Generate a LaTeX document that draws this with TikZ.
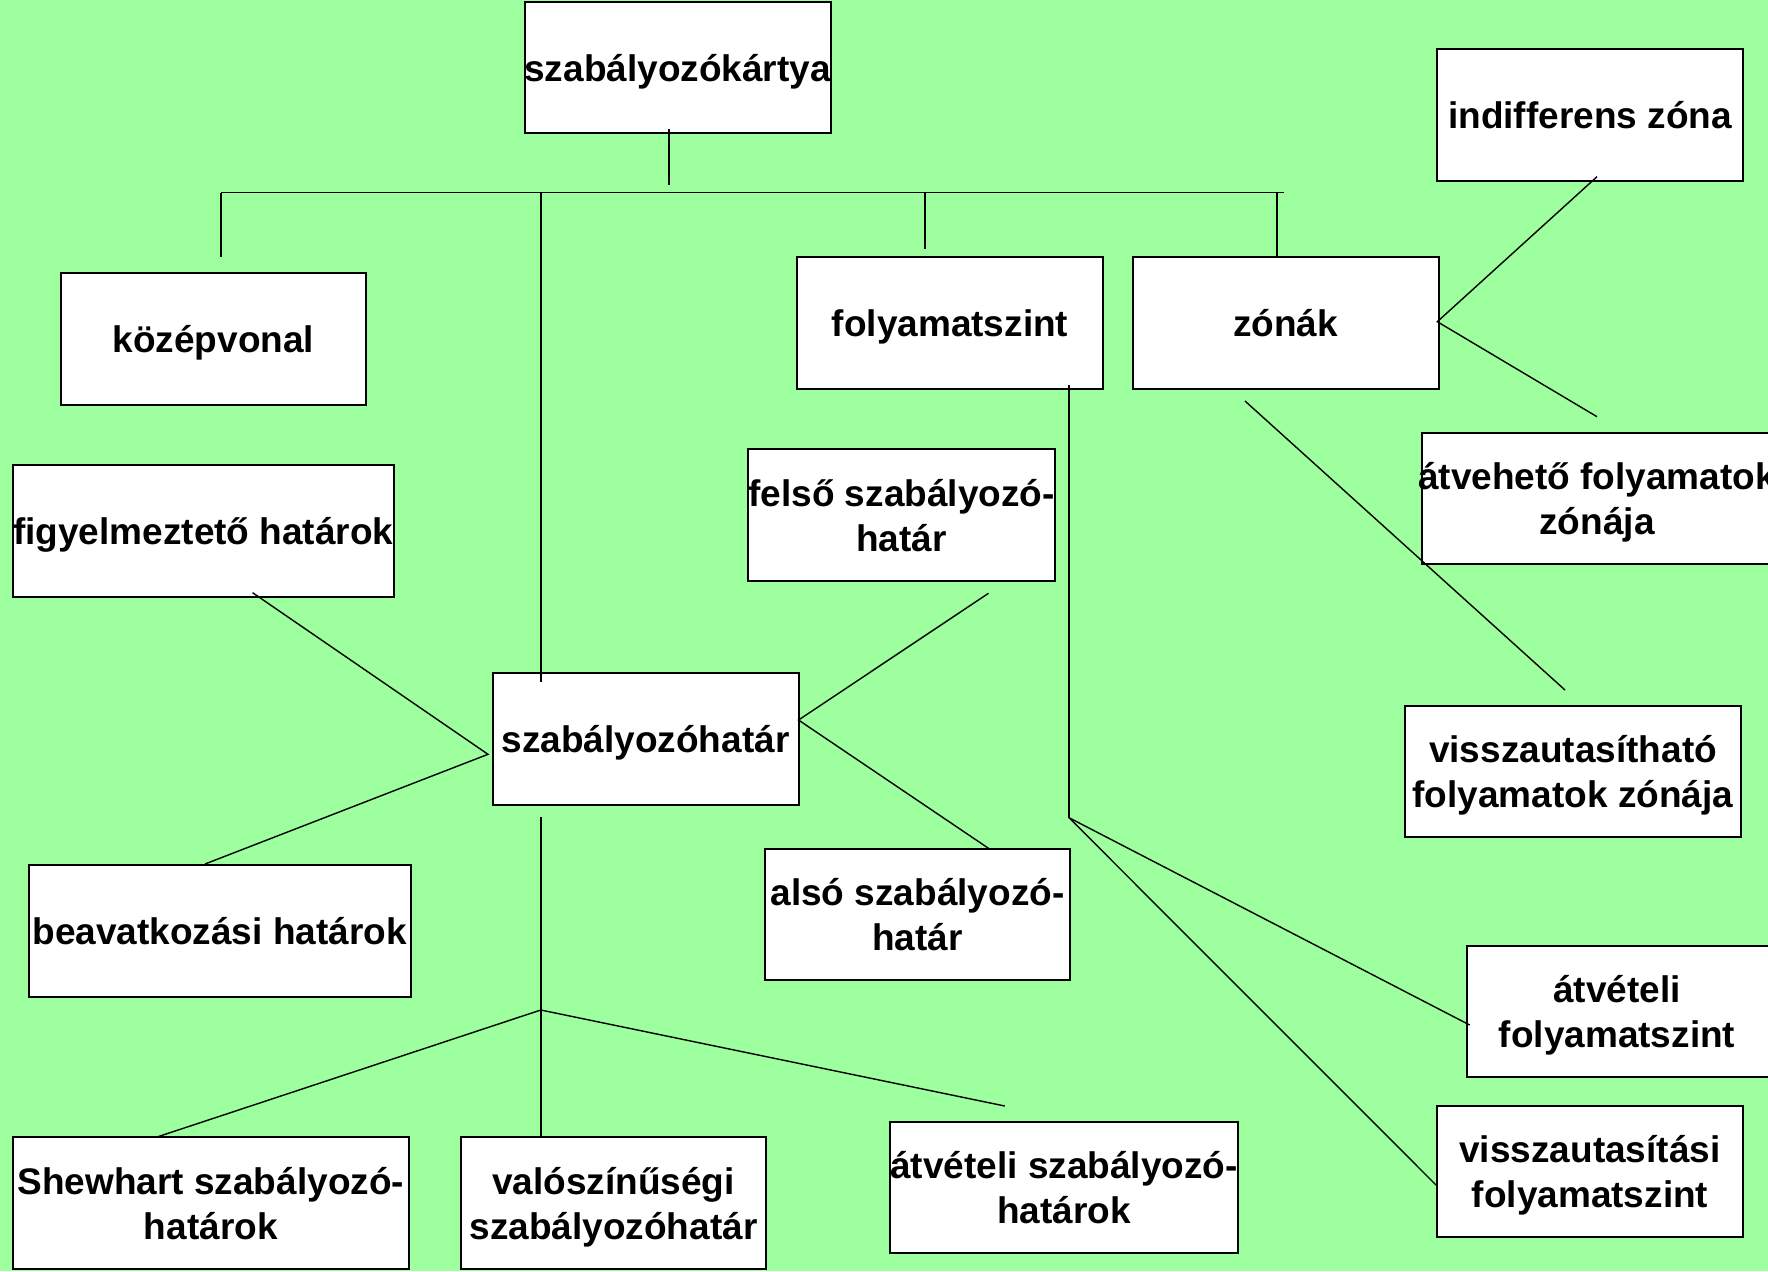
\documentclass[tikz,border=0pt]{standalone}
\usepackage{fontspec}
\setmainfont{Liberation Sans}
\definecolor{bg}{RGB}{158,255,158}
\begin{document}
\begin{tikzpicture}[x=0.5pt,y=-0.5pt,
  box/.style 2 args={draw=black, line width=1pt, fill=white, inner sep=0pt,
    minimum width=#1pt, minimum height=#2pt, align=center, text depth=0pt,
    font=\fontsize{18.5}{22.5}\selectfont\bfseries},
  lbl/.style={inner sep=0pt, align=center,
    font=\fontsize{18.5}{22.5}\selectfont\bfseries},
  conn/.style={draw=black, line width=0.7pt}]

% background and page frame
\fill[bg] (0,0) rectangle (1768,1271);
\clip (0,0) rectangle (1768,1271);

% boxes
\node[box={153}{65.5}] (kartya) at (677.6,67.3) {};
\node[lbl] (kartya-t) at (677.6,72) {szabályozókártya};
\node[box={152.5}{66}] (kozep) at (213.4,339) {középvonal};
\node[box={153}{66}] (folyszint) at (950,323) {folyamatszint};
\node[box={153}{66}] (zonak) at (1285.6,323) {zónák};
\node[box={153}{66}] (indiff) at (1590,115) {indifferens zóna};
\node[box={190.5}{66}] (figyel) at (203.3,531) {figyelmeztető határok};
\node[box={153}{66}] (szabhat) at (645.5,739) {szabályozóhatár};
\node[box={152.5}{66}] (felso) at (901.5,515) {felső szabályozó-\\határ};
\node[box={175}{65.5}] (atveheto) at (1597,498.5) {};
\node[lbl] (atveheto-t) at (1597,502) {átvehető folyamatok\\zónája};
\node[box={168}{65.5}] (visszah) at (1573,771) {visszautasítható\\folyamatok zónája};
\node[box={152.5}{65.5}] (also) at (917.5,914.5) {alsó szabályozó-\\határ};
\node[box={191}{66}] (beavat) at (219.6,930.8) {beavatkozási határok};
\node[box={198}{66}] (shewhart) at (210.8,1203) {Shewhart szabályozó-\\határok};
\node[box={152.5}{66}] (valosz) at (613.5,1203) {valószínűségi\\szabályozóhatár};
\node[box={172}{65.5}] (atvszab) at (1064,1187.5) {átvételi szabályozó-\\határok};
\node[box={152}{65.5}] (atvfoly) at (1619,1011.5) {};
\node[lbl] (atvfoly-t) at (1617,1015) {átvételi\\folyamatszint};
\node[box={153}{65.5}] (visszaut) at (1590,1171.5) {visszautasítási\\folyamatszint};

% connector end points
\coordinate (k1) at (668.8,129);
\coordinate (k2) at (668.8,185);
\coordinate (busL) at (221,192.7);
\coordinate (busR) at (1284,192.7);
\coordinate (b1) at (540.8,192.7);
\coordinate (b2) at (924.9,192.7);
\coordinate (b3) at (1277,192.7);
\coordinate (kz) at (221,257);
\coordinate (fs) at (924.9,249.3);
\coordinate (sztop) at (540.8,681.7);
\coordinate (ind) at (1597,176.7);
\coordinate (zr) at (1437.3,321.7);
\coordinate (atv) at (1597,416.7);
\coordinate (z1) at (1245,401);
\coordinate (z2) at (1565,690);
\coordinate (f1) at (1069,385);
\coordinate (f2) at (1069,817.7);
\coordinate (af) at (1469.7,1025);
\coordinate (vf) at (1436,1185);
\coordinate (fe) at (988.5,593.3);
\coordinate (sr) at (798.5,720);
\coordinate (al) at (988.5,848.3);
\coordinate (fg) at (252.6,592.7);
\coordinate (sl) at (488,754.3);
\coordinate (bv) at (205,864);
\coordinate (sb) at (540.8,816.7);
\coordinate (j) at (540.8,1010);
\coordinate (sh) at (157.9,1136.7);
\coordinate (as) at (1004.8,1106);

% connectors
\draw[conn] (k1) -- (k2);
\draw[conn] (busL) -- (busR);
\draw[conn] (busL) -- (kz);
\draw[conn] (b1) -- (sztop);
\draw[conn] (b2) -- (fs);
\draw[conn] (b3) -- (b3 |- zonak.north);
\draw[conn] (ind) -- (zr) -- (atv);
\draw[conn] (z1) -- (z2);
\draw[conn] (f1) -- (f2);
\draw[conn] (f2) -- (af);
\draw[conn] (f2) -- (vf);
\draw[conn] (fe) -- (sr) -- (al);
\draw[conn] (fg) -- (sl) -- (bv);
\draw[conn] (sb) -- (j |- valosz.north);
\draw[conn] (j) -- (sh);
\draw[conn] (j) -- (as);
\end{tikzpicture}
\end{document}
